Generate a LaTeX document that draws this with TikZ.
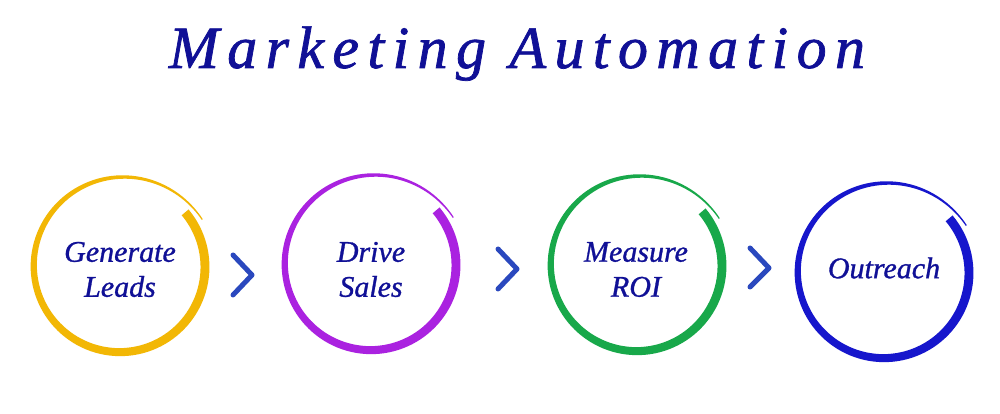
\documentclass[tikz,border=0pt]{standalone}
\usepackage{fontspec}
\setmainfont{Liberation Serif}
\newfontfamily\titlefont[LetterSpace=14,FakeBold=1.2]{Liberation Serif}
\newfontfamily\labelfont[FakeBold=1]{Liberation Serif}
\definecolor{ringyellow}{RGB}{242,183,5}
\definecolor{ringpurple}{RGB}{170,34,224}
\definecolor{ringgreen}{RGB}{24,168,74}
\definecolor{ringblue}{RGB}{22,22,204}
\definecolor{chevblue}{RGB}{42,72,190}
\definecolor{txtblue}{RGB}{16,16,150}
\newcommand\brushring[2]{%
  \begin{scope}[shift={(#1)}]
    \fill[#2] plot[domain=0:370,samples=120,variable=\s] ({40-\s}:{rr(\s)+ww(\s)/2})
      -- plot[domain=370:0,samples=120,variable=\s] ({40-\s}:{rr(\s)-ww(\s)/2}) -- cycle;
  \end{scope}}
\begin{document}
\begin{tikzpicture}[x=1pt,y=1pt,
  declare function={rr(\s)=85+10*(\s/370)^4; ww(\s)=9-7.8*(\s/370)^2;},
  lbl/.style={font=\labelfont\itshape\fontsize{30}{35}\selectfont, text=txtblue, align=center, inner sep=0pt},
  chev/.style={draw=chevblue, line width=5pt, line cap=round, line join=round}]
\useasboundingbox[fill=white] (0,0) rectangle (1000,414);

\node[font=\titlefont\itshape\fontsize{60}{60}\selectfont, text=txtblue, anchor=base] (title) at (517,346) {Marketing Automation};

\coordinate (k1) at (120,147);
\coordinate (k2) at (371,149);
\coordinate (k3) at (637,148);
\coordinate (k4) at (884,141);

\brushring{k1}{ringyellow}
\brushring{k2}{ringpurple}
\brushring{k3}{ringgreen}
\brushring{k4}{ringblue}

\node[lbl] (l1) at (120,144.5) {Generate\\Leads};
\node[lbl] (l2) at (371,144.5) {Drive\\Sales};
\node[lbl] (l3) at (636,144.5) {Measure\\ROI};
\node[lbl] (l4) at (884,146) {Outreach};

\draw[chev] (233,159) -- (252,139) -- (233,119);
\draw[chev] (498,165) -- (517,145) -- (498,125);
\draw[chev] (750,166) -- (769,146) -- (750,127);
\end{tikzpicture}
\end{document}
